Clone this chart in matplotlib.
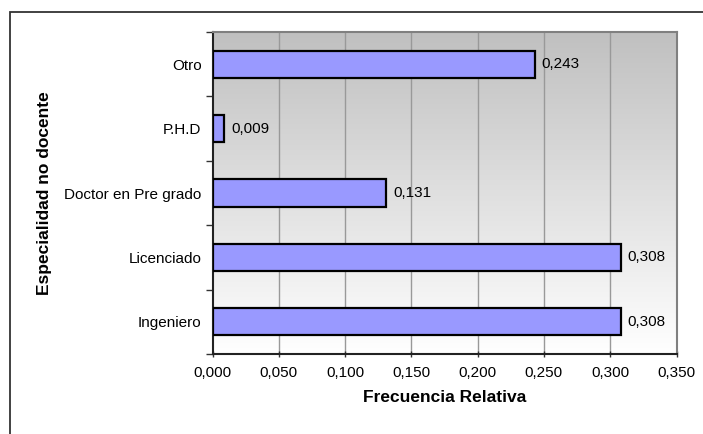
import matplotlib
matplotlib.use("Agg")
import matplotlib.pyplot as plt
import numpy as np
from matplotlib.patches import Rectangle
from matplotlib.ticker import FixedLocator

categories = ["Ingeniero", "Licenciado", "Doctor en Pre grado", "P.H.D", "Otro"]
values = [0.308, 0.308, 0.131, 0.009, 0.243]
xticks = [0.0, 0.05, 0.10, 0.15, 0.20, 0.25, 0.30, 0.35]

plt.rcParams['font.family'] = ['Liberation Sans', 'DejaVu Sans']

W, H = 703, 434
fig = plt.figure(figsize=(W/100, H/100), dpi=100)
fig.patch.set_facecolor('white')

# outer chart frame (cut at right and bottom)
fig.patches.append(Rectangle((10/W, -0.1), 1.1, (H-12)/H + 0.1, transform=fig.transFigure,
                             fill=False, edgecolor='#333333', linewidth=1.3, zorder=0))

left, right, top, bottom = 212.5, 676.5, 32, 354
ax = fig.add_axes([left/W, 1-bottom/H, (right-left)/W, (bottom-top)/H])

n = len(categories)
# gradient background: grey at top, white at bottom
t = np.linspace(0, 1, 256)[:, None]
top_c = np.array([0xc0, 0xc0, 0xc0])/255
bot_c = np.array([0xff, 0xff, 0xff])/255
img = (top_c*(1-t) + bot_c*t).reshape(256, 1, 3)
ax.imshow(img, extent=[0, 0.35, -0.5, n-0.5], origin='upper', aspect='auto', zorder=0)
ax.set_xlim(0, 0.35)
ax.set_ylim(-0.5, n-0.5)

for x in xticks[1:-1]:
    ax.axvline(x, color='#999999', linewidth=1, zorder=1)

y = np.arange(n)
ax.barh(y, values, height=0.42, color='#9999ff', edgecolor='black', linewidth=1.6, zorder=3)

for yi, v in zip(y, values):
    ax.annotate(f"{v:.3f}".replace('.', ','), (v, yi), xytext=(5, 0), textcoords='offset points',
                va='center', ha='left', fontsize=11, color='black', zorder=4)

ax.set_xticks(xticks)
ax.set_xticklabels([f"{t:.3f}".replace('.', ',') for t in xticks], fontsize=11)
ax.set_yticks(y)
ax.set_yticklabels(categories, fontsize=11)
ax.yaxis.set_minor_locator(FixedLocator(np.arange(-0.5, n, 1.0)))
ax.tick_params(axis='y', which='major', length=0, pad=8)
ax.tick_params(axis='y', which='minor', length=5, width=1, direction='out', color='#333333')
ax.tick_params(axis='x', which='major', length=5, width=1, direction='inout', pad=6, color='#333333')

for s in ['top', 'right']:
    ax.spines[s].set_color('#808080')
    ax.spines[s].set_linewidth(1.5)
for s in ['left', 'bottom']:
    ax.spines[s].set_color('#222222')
    ax.spines[s].set_linewidth(1.5)

ax.set_xlabel("Frecuencia Relativa", fontsize=12.5, fontweight='bold', labelpad=7)
fig.text(45/W, 1-193/H, "Especialidad no docente", rotation=90, fontsize=12.5,
         fontweight='bold', ha='center', va='center')

fig.savefig("out.png", dpi=100)
